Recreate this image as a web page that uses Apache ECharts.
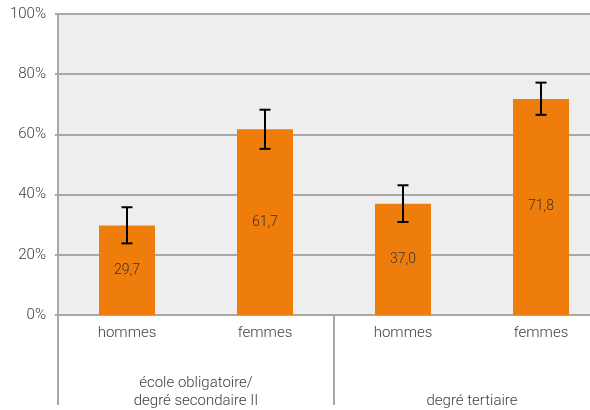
<!DOCTYPE html>
<html>
<head>
<meta charset="utf-8">
<script src="https://cdn.jsdelivr.net/npm/echarts@6/dist/echarts.min.js"></script>
<style>
  html, body { margin: 0; padding: 0; background: #fff; }
  #main { width: 590px; height: 410px; }
</style>
</head>
<body>
<div id="main"></div>
<script>
// données
var categories = ['hommes', 'femmes', 'hommes', 'femmes'];
var groups = ['école obligatoire/\ndegré secondaire II', 'degré tertiaire'];
var values = [29.7, 61.7, 37.0, 71.8];
var errLow = [23.8, 55.2, 30.9, 66.5];
var errHigh = [35.8, 68.2, 43.1, 77.2];
var yTicks = [0, 20, 40, 60, 80, 100];

var txt = '#404040';
var gridCol = '#a8a8a8';
var myChart = echarts.init(document.getElementById('main'));

var option = {
  animation: false,
  textStyle: { fontFamily: 'Roboto', fontWeight: 300 },
  grid: {
    left: 58, top: 14, bottom: 95, width: 552,
    outerBoundsMode: 'none',
    show: true, backgroundColor: '#eeeeee', borderWidth: 0
  },
  xAxis: [{
    type: 'category',
    data: categories,
    axisLine: { show: true, lineStyle: { color: gridCol, width: 2 } },
    axisTick: { show: false },
    axisLabel: { color: txt, fontSize: 15, fontWeight: 300, margin: 11 }
  }, {
    type: 'category',
    data: groups,
    position: 'bottom',
    axisLine: { show: false },
    axisTick: { show: true, interval: 0, length: 90, lineStyle: { color: gridCol, width: 2 } },
    axisLabel: {
      color: txt, fontSize: 15, fontWeight: 300, lineHeight: 18,
      margin: 95, verticalAlign: 'bottom', interval: 0
    }
  }],
  yAxis: {
    type: 'value',
    min: yTicks[0], max: yTicks[yTicks.length - 1], interval: 20,
    axisLine: { show: true, lineStyle: { color: gridCol, width: 2 } },
    axisTick: { show: true, length: 3, lineStyle: { color: gridCol, width: 2 } },
    splitLine: { lineStyle: { color: gridCol, width: 2 } },
    axisLabel: { color: txt, fontSize: 15, fontWeight: 300, margin: 12, formatter: '{value}%' }
  },
  series: [{
    type: 'bar',
    data: values,
    barWidth: 56,
    itemStyle: { color: '#ef7d0b' },
    label: {
      show: true, position: 'inside', color: '#333', fontSize: 14, fontWeight: 300,
      formatter: function (p) { return p.value.toFixed(1).replace('.', ','); }
    }
  }, {
    // barres d'erreur
    type: 'custom',
    data: values.map(function (v, i) { return [i, errLow[i], errHigh[i]]; }),
    z: 10,
    renderItem: function (params, api) {
      var lo = api.coord([api.value(0), api.value(1)]);
      var hi = api.coord([api.value(0), api.value(2)]);
      var x = lo[0], hw = 5.5;
      var st = { stroke: '#000', lineWidth: 2 };
      return {
        type: 'group',
        children: [
          { type: 'line', shape: { x1: x, y1: lo[1], x2: x, y2: hi[1] }, style: st },
          { type: 'line', shape: { x1: x - hw, y1: lo[1], x2: x + hw, y2: lo[1] }, style: st },
          { type: 'line', shape: { x1: x - hw, y1: hi[1], x2: x + hw, y2: hi[1] }, style: st }
        ]
      };
    }
  }]
};

myChart.setOption(option);
</script>
</body>
</html>
